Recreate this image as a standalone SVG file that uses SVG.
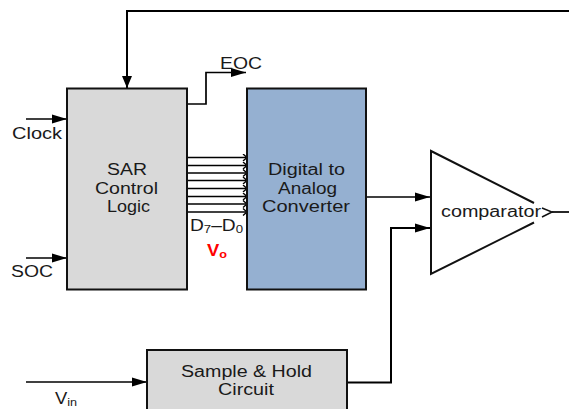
<svg xmlns="http://www.w3.org/2000/svg" width="569" height="409" viewBox="0 0 569 409">
<defs>
<marker id="ah" markerUnits="userSpaceOnUse" markerWidth="15" markerHeight="10" refX="15" refY="5" orient="auto"><path d="M0,0.500 L15,5 L0,9.500 Z" fill="#000"/></marker>
<marker id="ahv" markerUnits="userSpaceOnUse" markerWidth="12" markerHeight="11" refX="12" refY="5.500" orient="auto"><path d="M0,0.500 L12,5.500 L0,10.500 Z" fill="#000"/></marker>
<marker id="open" markerUnits="userSpaceOnUse" markerWidth="8" markerHeight="8" refX="7" refY="4" orient="auto"><path d="M3,0.500 L7,4 L3,7.500" fill="none" stroke="#000" stroke-width="1.4"/></marker>
</defs>
<style>
text{font-family:"Liberation Sans",Arial,sans-serif;fill:#1a1a1a;font-size:16px}
.box{stroke:#111;stroke-width:2}
.gray{fill:#d9d9d9}
.line{fill:none;stroke:#000;stroke-width:1.700}
.heavy{fill:none;stroke:#000;stroke-width:2}
.bus{fill:none;stroke:#000;stroke-width:1.500}
</style>
<g id="connectors">
<path class="heavy" d="M569,11 H127 V88" marker-end="url(#ahv)"/>
<path class="line" d="M187,104 H206 V72.500 H246" marker-end="url(#ah)"/>
<path class="line" d="M26,119 H67" marker-end="url(#ah)"/>
<path class="line" d="M26,258 H67" marker-end="url(#ah)"/>
<path class="line" d="M26,382 H147" marker-end="url(#ah)"/>
<path class="line" d="M366,197 H430" marker-end="url(#ah)"/>
<path class="heavy" d="M347,382.500 H391 V228 H430" marker-end="url(#ah)"/>
<path class="line" d="M552,212 H569"/>
<g>
<path class="bus" d="M187,157.500 H247" marker-end="url(#open)"/>
<path class="bus" d="M187,165.500 H247" marker-end="url(#open)"/>
<path class="bus" d="M187,173 H247" marker-end="url(#open)"/>
<path class="bus" d="M187,180.500 H247" marker-end="url(#open)"/>
<path class="bus" d="M187,188.500 H247" marker-end="url(#open)"/>
<path class="bus" d="M187,196.500 H247" marker-end="url(#open)"/>
<path class="bus" d="M187,204 H247" marker-end="url(#open)"/>
<path class="bus" d="M187,212 H247" marker-end="url(#open)"/>
</g>
</g>
<g id="sar">
<rect class="box gray" x="67" y="88.500" width="120" height="201"/>
<text x="107" y="175" textLength="40" lengthAdjust="spacingAndGlyphs">SAR</text>
<text x="95" y="194" textLength="63" lengthAdjust="spacingAndGlyphs">Control</text>
<text x="107" y="212" textLength="43" lengthAdjust="spacingAndGlyphs">Logic</text>
</g>
<g id="dac">
<rect class="box" x="247" y="88.500" width="119" height="201" fill="#95b0d1"/>
<text x="268" y="175" textLength="77" lengthAdjust="spacingAndGlyphs">Digital to</text>
<text x="278" y="194" textLength="59" lengthAdjust="spacingAndGlyphs">Analog</text>
<text x="262" y="212" textLength="88" lengthAdjust="spacingAndGlyphs">Converter</text>
</g>
<g id="comparator">
<path d="M534,203 L431,151 V274 L534,222.500" fill="#fff" stroke="#111" stroke-width="2"/>
<text x="441" y="217" textLength="100" lengthAdjust="spacingAndGlyphs">comparator</text>
<path d="M542,208 L552,212 L542,217" fill="none" stroke="#111" stroke-width="1.500"/>
</g>
<g id="sh">
<path class="box gray" d="M147,409 V350 H347 V409"/>
<text x="181" y="377" textLength="131" lengthAdjust="spacingAndGlyphs">Sample &amp; Hold</text>
<text x="218" y="395" textLength="56" lengthAdjust="spacingAndGlyphs">Circuit</text>
</g>
<g id="labels">
<text x="220" y="69" textLength="42" lengthAdjust="spacingAndGlyphs">EOC</text>
<text x="12" y="139" textLength="50" lengthAdjust="spacingAndGlyphs">Clock</text>
<text x="11" y="277" textLength="42" lengthAdjust="spacingAndGlyphs">SOC</text>
<text transform="translate(55 404) scale(1.150 1)">V<tspan font-size="11" dy="2">in</tspan></text>
<text transform="translate(190 231) scale(1.200 1)">D<tspan font-size="11" dy="2">7</tspan><tspan dy="-2">–D</tspan><tspan font-size="11" dy="2">0</tspan></text>
<text transform="translate(207 256) scale(1.150 1)" style="fill:#f00;font-weight:bold">V<tspan font-size="11" dy="2">o</tspan></text>
</g>
</svg>
